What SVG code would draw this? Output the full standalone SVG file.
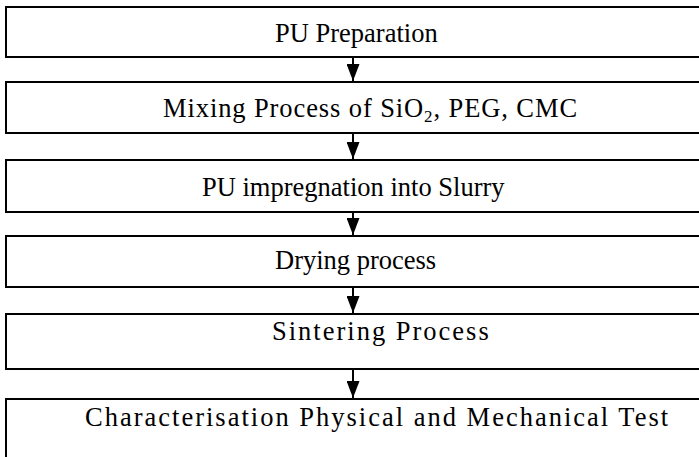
<svg xmlns="http://www.w3.org/2000/svg" width="699" height="457" viewBox="0 0 699 457">
<style>
.box{fill:#fff;stroke:#000;stroke-width:2}
.lbl{font-family:"Liberation Serif","Times New Roman",serif;font-size:26.5px;fill:#000}
.sp{letter-spacing:2px}
.conn{stroke:#000;stroke-width:2;fill:none}
</style>
<defs>
<marker id="ah" viewBox="0 0 17 13" markerUnits="userSpaceOnUse" markerWidth="17" markerHeight="13" refX="17" refY="6.5" orient="auto">
<path d="M0,0 L17,6.5 L0,13 z" fill="#000"/>
</marker>
</defs>
<rect width="699" height="457" fill="#fff"/>
<g id="n1"><rect class="box" x="6" y="7" width="700" height="50"/><text class="lbl" x="275" y="42">PU Preparation</text></g>
<g id="n2"><rect class="box" x="6" y="82" width="700" height="51"/><text class="lbl" x="163" y="117" letter-spacing="0.9">Mixing Process of SiO<tspan font-size="17" dy="5">2</tspan><tspan dy="-5">, PEG, CMC</tspan></text></g>
<g id="n3"><rect class="box" x="6" y="160" width="700" height="52"/><text class="lbl" x="202" y="196">PU impregnation into Slurry</text></g>
<g id="n4"><rect class="box" x="6" y="236" width="700" height="51"/><text class="lbl" x="275" y="269">Drying process</text></g>
<g id="n5"><rect class="box" x="6" y="314" width="700" height="55"/><text class="lbl sp" x="272" y="340">Sintering Process</text></g>
<g id="n6"><rect class="box" x="6" y="399" width="700" height="80"/><text class="lbl sp" x="85" y="426">Characterisation Physical and Mechanical Test</text></g>
<g id="connectors">
<line class="conn" x1="353" y1="58" x2="353" y2="81" marker-end="url(#ah)"/>
<line class="conn" x1="353" y1="134" x2="353" y2="159" marker-end="url(#ah)"/>
<line class="conn" x1="353" y1="213" x2="353" y2="235" marker-end="url(#ah)"/>
<line class="conn" x1="353" y1="288" x2="353" y2="313" marker-end="url(#ah)"/>
<line class="conn" x1="353" y1="370" x2="353" y2="398" marker-end="url(#ah)"/>
</g>
</svg>
